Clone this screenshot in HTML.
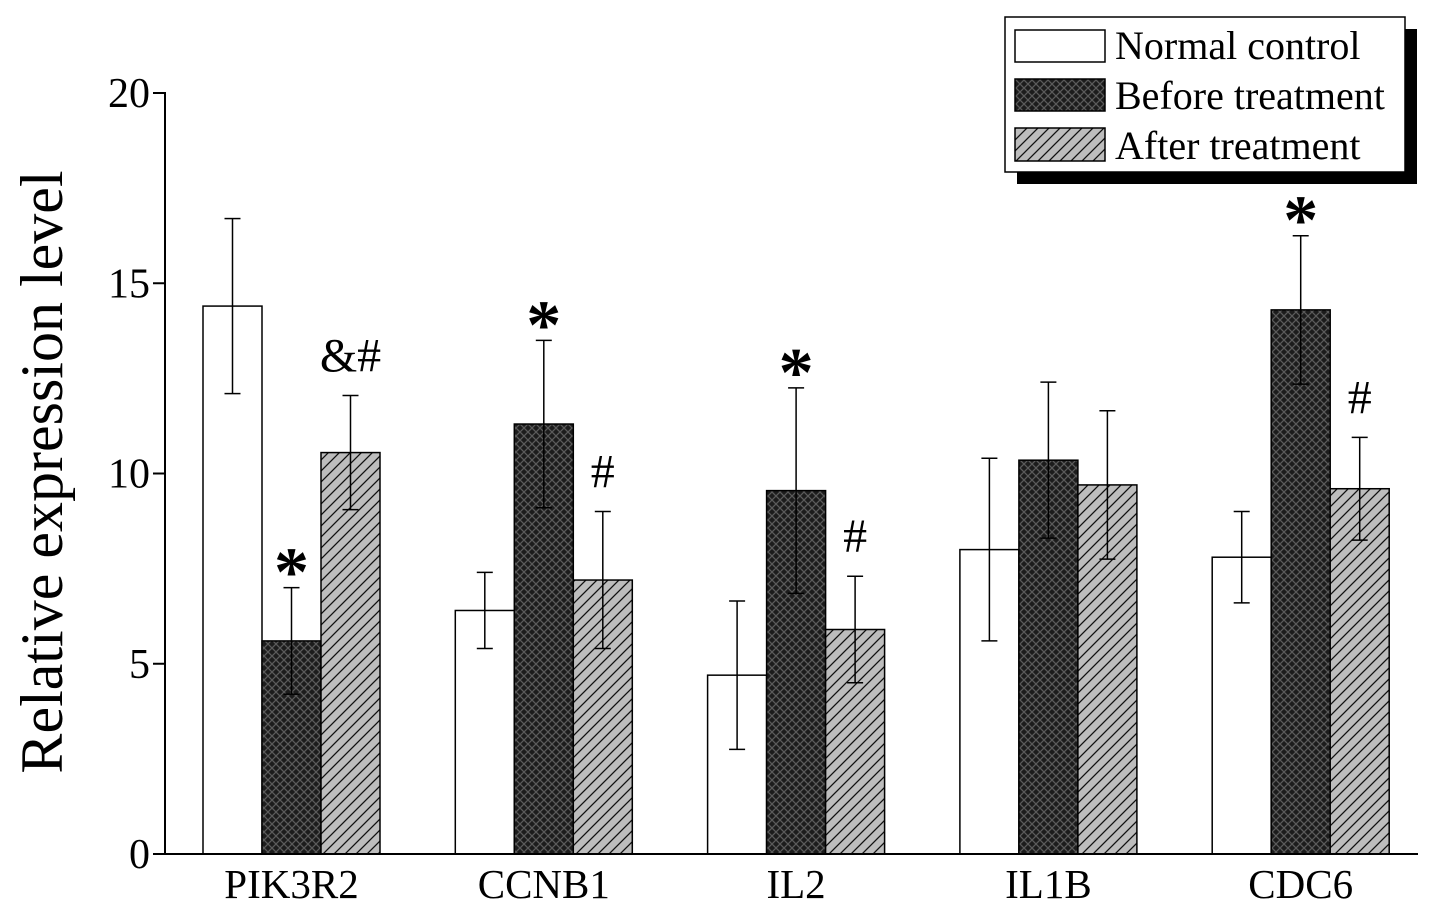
<!DOCTYPE html>
<html><head><meta charset="utf-8"><style>
html,body{margin:0;padding:0;background:#fff;}
svg{display:block;font-family:"Liberation Serif",serif;}
</style></head><body>
<svg id="chart" width="1441" height="920" viewBox="0 0 1441 920">
<defs>
<pattern id="cross" width="8" height="8" patternUnits="userSpaceOnUse">
<rect width="8" height="8" fill="#1c1c1c"/>
<path d="M0,0 L8,8 M8,0 L0,8" stroke="#5a5a5a" stroke-width="1.3"/>
</pattern>
<pattern id="diag" width="11" height="11" patternUnits="userSpaceOnUse">
<rect width="11" height="11" fill="#bdbdbd"/>
<path d="M-2,13 L13,-2 M-2,2 L2,-2 M9,13 L13,9" stroke="#111" stroke-width="1.3"/>
</pattern>
</defs>
<g id="plot"></g>
<text transform="translate(62,472) rotate(-90)" text-anchor="middle" font-size="60">Relative expression level</text>
<g>
<rect x="1017" y="29" width="400" height="155" fill="#000"/>
<rect x="1005" y="17" width="400" height="155" fill="#fff" stroke="#000" stroke-width="1.5"/>
<rect x="1015" y="30" width="90" height="32" fill="#fff" stroke="#000" stroke-width="1.5"/>
<text x="1115" y="59" font-size="40">Normal control</text>
<rect x="1015" y="79" width="90" height="32" fill="url(#cross)" stroke="#000" stroke-width="1.5"/>
<text x="1115" y="109" font-size="40">Before treatment</text>
<rect x="1015" y="128" width="90" height="33" fill="url(#diag)" stroke="#000" stroke-width="1.5"/>
<text x="1115" y="159" font-size="40">After treatment</text>
</g>
</svg>
<script>
const categories=["PIK3R2","CCNB1","IL2","IL1B","CDC6"];
const normalVals=[14.4,6.4,4.7,8.0,7.8];
const normalErr=[2.3,1.0,1.95,2.4,1.2];
const beforeVals=[5.6,11.3,9.55,10.35,14.3];
const beforeErr=[1.4,2.2,2.7,2.05,1.95];
const afterVals=[10.55,7.2,5.9,9.7,9.6];
const afterErr=[1.5,1.8,1.4,1.95,1.35];
const beforeMarks=["*","*","*","","*"];
const afterMarks=["&#","#","#","","#"];
const yTicks=[0,5,10,15,20];

const NS="http://www.w3.org/2000/svg";
const g=document.getElementById('plot');
const y0=854,yTop=93,yMax=20,xL=165,xR=1418;
const yS=v=>y0-(y0-yTop)*v/yMax;
const groupStart=i=>203+i*252.3;
const bw=59;
function mk(t,a,name){const e=document.createElementNS(NS,t);for(const k in a)e.setAttribute(k,a[k]);


g.appendChild(e);return e;}
const series=[[normalVals,normalErr,"#fff","normal"],[beforeVals,beforeErr,"url(#cross)","before"],[afterVals,afterErr,"url(#diag)","after"]];
categories.forEach((c,i)=>{
 series.forEach((s,j)=>{
  const x=groupStart(i)+j*bw,v=s[0][i],e=s[1][i];
  mk('rect',{x:x,y:yS(v),width:bw,height:y0-yS(v),fill:s[2],stroke:'#000','stroke-width':1.5},'bar-'+s[3]+'-'+c);
  const cx=x+bw/2;
  mk('line',{x1:cx,x2:cx,y1:yS(v+e),y2:yS(v-e),stroke:'#000','stroke-width':1.5},'error-bar-'+s[3]+'-'+c);
  mk('line',{x1:cx-8,x2:cx+8,y1:yS(v+e),y2:yS(v+e),stroke:'#000','stroke-width':1.5},'error-cap-top');
  mk('line',{x1:cx-8,x2:cx+8,y1:yS(v-e),y2:yS(v-e),stroke:'#000','stroke-width':1.5},'error-cap-bottom');
 });
 const bx=groupStart(i)+bw*1.5;
 if(beforeMarks[i]){const t=mk('text',{x:bx,y:yS(beforeVals[i]+beforeErr[i])+8,'text-anchor':'middle','font-size':70,'font-weight':'bold'},'significance-star');t.textContent=beforeMarks[i];}
 const ax=groupStart(i)+bw*2.5;
 if(afterMarks[i]){const t=mk('text',{x:ax,y:yS(afterVals[i]+afterErr[i])-24,'text-anchor':'middle','font-size':48},'significance-mark');t.textContent=afterMarks[i];}
 const lt=mk('text',{x:groupStart(i)+bw*1.5,y:898,'text-anchor':'middle','font-size':41},'x-tick-label');lt.textContent=c;
});
mk('line',{x1:xL,x2:xL,y1:yTop-1,y2:y0+1,stroke:'#000','stroke-width':2},'y-axis');
mk('line',{x1:xL-1,x2:xR,y1:y0,y2:y0,stroke:'#000','stroke-width':2},'x-axis');
yTicks.forEach(t=>{
 mk('line',{x1:xL-12,x2:xL,y1:yS(t),y2:yS(t),stroke:'#000','stroke-width':2},'y-tick');
 const tx=mk('text',{x:150,y:yS(t)+14,'text-anchor':'end','font-size':42},'y-tick-label');tx.textContent=t;
});
</script>
</body></html>
